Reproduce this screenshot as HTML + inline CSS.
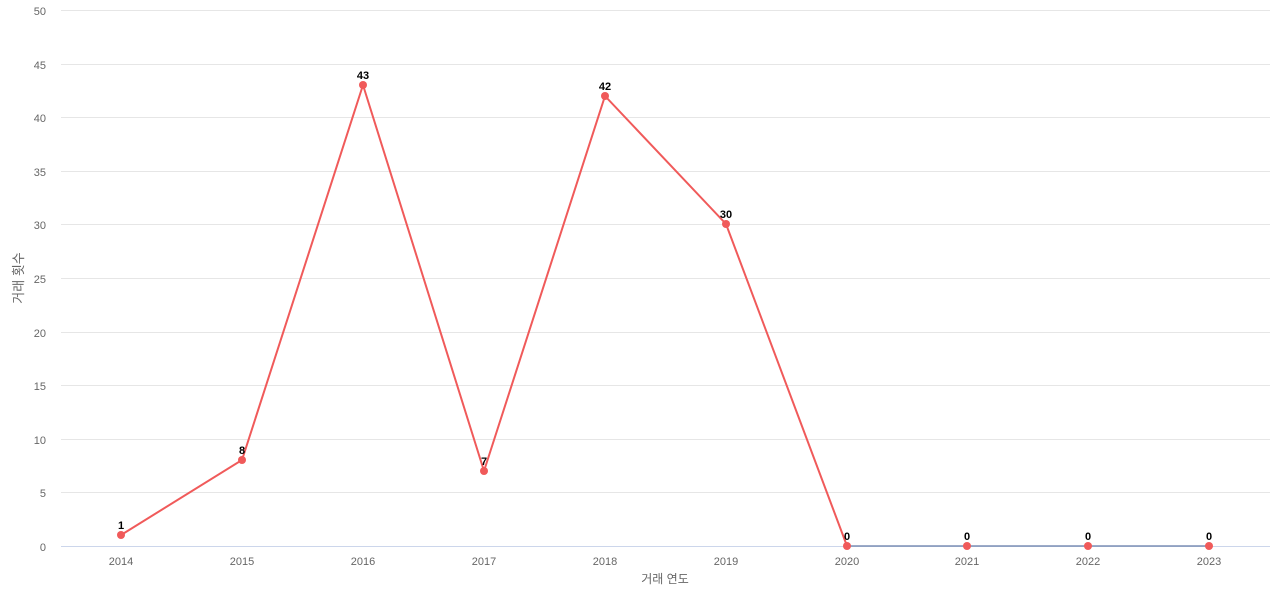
<!DOCTYPE html>
<html><head><meta charset="utf-8"><style>
body{margin:0;background:#fff;}
svg text{font-family:"Liberation Sans","Noto Sans CJK KR",sans-serif;}
</style></head><body>
<svg width="1280" height="600" xmlns="http://www.w3.org/2000/svg">
<g stroke="#e6e6e6" stroke-width="1">
<line x1="61" x2="1270" y1="10.5" y2="10.5"/>
<line x1="61" x2="1270" y1="64.5" y2="64.5"/>
<line x1="61" x2="1270" y1="117.5" y2="117.5"/>
<line x1="61" x2="1270" y1="171.5" y2="171.5"/>
<line x1="61" x2="1270" y1="224.5" y2="224.5"/>
<line x1="61" x2="1270" y1="278.5" y2="278.5"/>
<line x1="61" x2="1270" y1="332.5" y2="332.5"/>
<line x1="61" x2="1270" y1="385.5" y2="385.5"/>
<line x1="61" x2="1270" y1="439.5" y2="439.5"/>
<line x1="61" x2="1270" y1="492.5" y2="492.5"/>
</g>
<line x1="61" x2="1270" y1="546.5" y2="546.5" stroke="#ccd6eb"/>
<g font-size="11" fill="#666" text-anchor="end">
<text x="46" y="15">50</text><text x="46" y="69">45</text><text x="46" y="122">40</text>
<text x="46" y="176">35</text><text x="46" y="229">30</text><text x="46" y="283">25</text>
<text x="46" y="337">20</text><text x="46" y="390">15</text><text x="46" y="444">10</text>
<text x="46" y="497">5</text><text x="46" y="551">0</text>
</g>
<g font-size="11" fill="#666" text-anchor="middle">
<text x="121" y="565">2014</text><text x="242" y="565">2015</text><text x="363" y="565">2016</text>
<text x="484" y="565">2017</text><text x="605" y="565">2018</text><text x="726" y="565">2019</text>
<text x="847" y="565">2020</text><text x="967" y="565">2021</text><text x="1088" y="565">2022</text>
<text x="1209" y="565">2023</text>
</g>
<text x="665" y="583" font-size="12" fill="#666" text-anchor="middle">거래 연도</text>
<text transform="translate(23,278) rotate(-90)" font-size="13" fill="#666" text-anchor="middle">거래 횟수</text>
<polyline fill="none" stroke="#f05a5a" stroke-width="2" points="121,535 242,460 363,85 484,471 605,96 726,224 847,546"/>
<line x1="847" x2="1209" y1="546" y2="546" stroke="#7d8fb5" stroke-width="1.5"/>
<g fill="#f05a5a">
<circle cx="121" cy="535" r="4"/><circle cx="242" cy="460" r="4"/><circle cx="363" cy="85" r="4"/>
<circle cx="484" cy="471" r="4"/><circle cx="605" cy="96" r="4"/><circle cx="726" cy="224" r="4"/>
<circle cx="847" cy="546" r="4"/><circle cx="967" cy="546" r="4"/><circle cx="1088" cy="546" r="4"/>
<circle cx="1209" cy="546" r="4"/>
</g>
<g font-size="11" font-weight="bold" fill="#000" text-anchor="middle">
<text x="121" y="529">1</text><text x="242" y="454">8</text><text x="363" y="79">43</text>
<text x="484" y="465">7</text><text x="605" y="90">42</text><text x="726" y="218">30</text>
<text x="847" y="540">0</text><text x="967" y="540">0</text><text x="1088" y="540">0</text><text x="1209" y="540">0</text>
</g>
</svg>
</body></html>
